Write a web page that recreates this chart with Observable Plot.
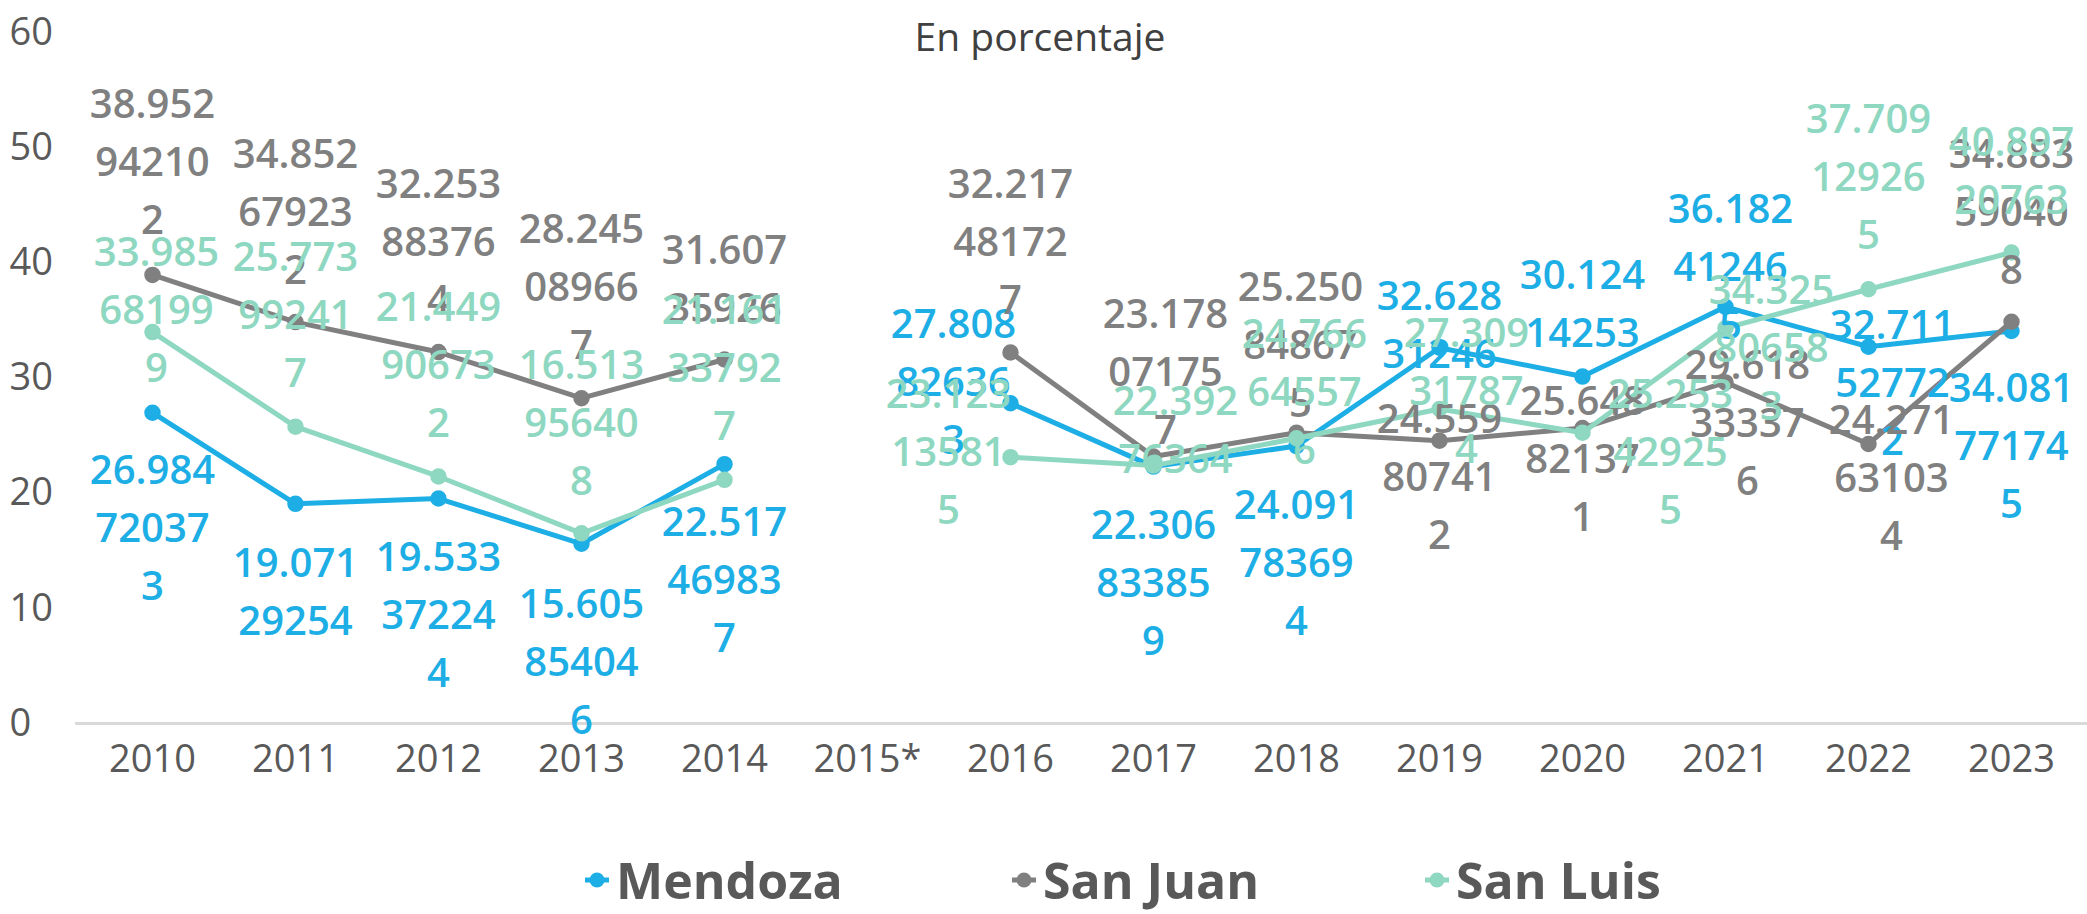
<!DOCTYPE html>
<html>
<head>
<meta charset="utf-8">
<script src="https://cdn.jsdelivr.net/npm/d3@7"></script>
<script src="https://cdn.jsdelivr.net/npm/@observablehq/plot@0.6"></script>
<style>
html, body { margin: 0; padding: 0; background: #ffffff; }
#wrap { position: relative; width: 2087px; height: 914px; overflow: hidden; font-family: "Open Sans", sans-serif; }
#chart { position: absolute; left: 0; top: 0; }
#title { position: absolute; top: 9px; left: 1040px; transform: translateX(-50%); font-size: 39px; color: #404040; white-space: nowrap; }
#legend { position: absolute; left: 0; top: 850px; width: 2087px; height: 60px; }
.item { position: absolute; top: 0; display: flex; align-items: center; height: 60px; line-height: 60px; font-size: 50px; font-weight: 700; color: #595959; white-space: nowrap; }
.item svg { margin-right: 4px; }
</style>
</head>
<body>
<div id="wrap">
  <div id="chart"></div>
  <div id="title">En porcentaje</div>
  <div id="legend"></div>
</div>
<script>
// ---- data ----
const years = ["2010", "2011", "2012", "2013", "2014", "2015*", "2016", "2017", "2018", "2019", "2020", "2021", "2022", "2023"];
const seriesNames = ["Mendoza", "San Juan", "San Luis"];
const mendoza = [26.984720373, 19.07129254, 19.533372244, 15.605854046, 22.517469837, null, 27.808826363, 22.306833859, 24.091783694, 32.62831246, 30.12414253, 36.182412465, 32.711527722, 34.081771745];
const sanJuan = [38.952942102, 34.852679232, 32.253883764, 28.245089667, 31.60735926, null, 32.217481727, 23.178071757, 25.250848675, 24.559807412, 25.648821371, 29.618333376, 24.271631034, 34.883590408];
const sanLuis = [33.985681999, 25.773992417, 21.449906732, 16.513956408, 21.161337927, null, 23.123135815, 22.39276364, 24.766645576, 27.309317874, 25.253429255, 34.325806583, 37.709129265, 40.89720763];
const yTicks = [0, 10, 20, 30, 40, 50, 60];

// ---- label nudges (px, relative to each point) ----
const mendozaLabelDx = [0, 0, 0, 0, 0, 0, -57, 0, 0, 0, 0, 5, 24, 0];
const mendozaLabelDy = [111, 84, 112, 114, 111, 0, -26, 112, 112, -27, -77, -44, 32, 110];
const sanJuanLabelDx = [0, 0, 0, 0, 0, 0, 0, 12, 4, 0, 0, 22, 23, 0];
const sanJuanLabelDy = [-117, -115, -115, -116, -85, 0, -115, -89, -92, 32, 26, 36, 29, -114];
const sanLuisLabelDx = [4, 0, 0, 0, 0, 0, -62, 22, 8, 27, 88, 46, 0, 0];
const sanLuisLabelDy = [-27, -116, -116, -115, -116, 0, -10, -40, -51, -23, 15, 15, -117, -86];

const colors = {"Mendoza": "#1DAEE5", "San Juan": "#808080", "San Luis": "#8ED7C0"};

const seriesValues = {"Mendoza": mendoza, "San Juan": sanJuan, "San Luis": sanLuis};
const seriesDx = {"Mendoza": mendozaLabelDx, "San Juan": sanJuanLabelDx, "San Luis": sanLuisLabelDx};
const seriesDy = {"Mendoza": mendozaLabelDy, "San Juan": sanJuanLabelDy, "San Luis": sanLuisLabelDy};

const rows = [];
for (const s of seriesNames) {
  seriesValues[s].forEach((v, i) => rows.push({series: s, year: years[i], value: v, dx: seriesDx[s][i], dy: seriesDy[s][i]}));
}

function wrapLabel(v) {
  const str = String(v);
  return [str.slice(0, 6), str.slice(6, 11), str.slice(11)].filter(t => t.length > 0).join("\n");
}

const marks = [
  Plot.ruleY([0], {stroke: "#D9D9D9", strokeWidth: 3}),
  Plot.axisY({ticks: yTicks, tickSize: 0, textAnchor: "start", dx: -57, fontSize: 38, fill: "#595959", label: null}),
  Plot.axisX({tickSize: 0, tickPadding: 22, fontSize: 38, fill: "#595959", label: null})
];

for (const s of seriesNames) {
  const d = rows.filter(r => r.series === s);
  marks.push(Plot.line(d, {x: "year", y: "value", stroke: colors[s], strokeWidth: 5, strokeLinejoin: "round", strokeLinecap: "round"}));
  marks.push(Plot.dot(d.filter(r => r.value != null), {x: "year", y: "value", r: 7.5, fill: colors[s], stroke: colors[s]}));
}

for (const s of seriesNames) {
  rows.filter(r => r.series === s && r.value != null).forEach(r => {
    marks.push(Plot.text([r], {
      x: "year", y: "value", text: d => wrapLabel(d.value),
      dx: r.dx, dy: r.dy, lineAnchor: "middle", lineHeight: 1.45,
      fill: colors[s], fontSize: 40, fontWeight: 600, textAnchor: "middle"
    }));
  });
}

const chart = Plot.plot({
  width: 2087,
  height: 830,
  marginLeft: 75,
  marginRight: 0,
  marginTop: 32,
  marginBottom: 107,
  style: {fontFamily: "'Open Sans', sans-serif", background: "white", overflow: "visible"},
  x: {type: "point", domain: years, padding: 0.5},
  y: {domain: [0, 60]},
  marks
});
document.getElementById("chart").appendChild(chart);

// ---- legend ----
const legend = document.getElementById("legend");
const legendPos = {"Mendoza": 582, "San Juan": 1009, "San Luis": 1422};
for (const s of seriesNames) {
  const item = document.createElement("div");
  item.className = "item";
  item.style.left = legendPos[s] + "px";
  item.innerHTML = `<svg width="30" height="30"><line x1="3" y1="15" x2="27" y2="15" stroke="${colors[s]}" stroke-width="5"/><circle cx="15" cy="15" r="7.5" fill="${colors[s]}"/></svg><span>${s}</span>`;
  legend.appendChild(item);
}
</script>
</body>
</html>
